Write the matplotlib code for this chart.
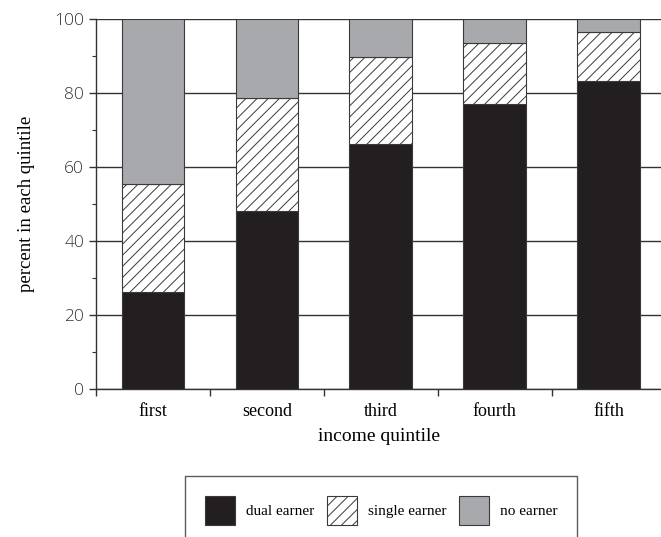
import matplotlib
matplotlib.use("Agg")
import matplotlib.pyplot as plt
from matplotlib.patches import Patch
import numpy as np

plt.rcParams['hatch.linewidth'] = 0.7

categories = ["first", "second", "third", "fourth", "fifth"]
dual_earner = [26.3, 48.1, 66.2, 77.1, 83.3]
single_earner = [29.0, 30.6, 23.6, 16.4, 13.1]
no_earner = [44.7, 21.3, 10.2, 6.5, 3.6]
series_labels = ["dual earner", "single earner", "no earner"]
y_ticks = [0, 20, 40, 60, 80, 100]

fig = plt.figure(figsize=(6.61, 5.37), dpi=100)
ax = fig.add_axes([96/661, 1-389/537, 1-96/661, (389-19)/537])

x = np.arange(len(categories))
w = 0.55
edge = "#3a3a3a"
ax.bar(x, dual_earner, w, color="#231f20", edgecolor=edge, linewidth=0.8, zorder=3)
ax.bar(x, single_earner, w, bottom=dual_earner, color="white", edgecolor=edge,
       hatch="///", linewidth=0.8, zorder=3)
bottom2 = [a + b for a, b in zip(dual_earner, single_earner)]
ax.bar(x, no_earner, w, bottom=bottom2, color="#a7a9ac", edgecolor=edge, linewidth=0.8, zorder=3)

ax.set_xlim(-0.5, 4.46)
ax.set_ylim(0, 100)
ax.set_yticks(y_ticks)
ax.set_yticks(np.arange(10, 100, 20), minor=True)
ax.yaxis.grid(True, which="major", color="#333333", linewidth=1.0, zorder=0)
ax.set_axisbelow(True)

ax.set_xticks(x)
ax.set_xticklabels(categories, family="Liberation Serif", fontsize=13)
ax.tick_params(axis="x", which="major", length=0, pad=10)
ax.set_xticks(np.arange(-0.5, 4.5, 1.0), minor=True)
ax.tick_params(axis="x", which="minor", length=5, width=1, color="#333333", direction="out")
ax.tick_params(axis="y", which="major", length=5, width=1, color="#333333", labelsize=12.5)
ax.tick_params(axis="y", which="minor", length=3, width=0.8, color="#333333")
for lab in ax.get_yticklabels():
    lab.set_family("Open Sans")
    lab.set_fontweight("light")
    lab.set_color("#333333")

for s in ["top", "right"]:
    ax.spines[s].set_visible(False)
for s in ["left", "bottom"]:
    ax.spines[s].set_color("#333333")
    ax.spines[s].set_linewidth(1.0)

ax.set_xlabel("income quintile", family="Liberation Serif", fontsize=14, labelpad=6)
ax.set_ylabel("percent in each quintile", family="Liberation Serif", fontsize=13.5, labelpad=14)

handles = [
    Patch(facecolor="#231f20", edgecolor=edge, linewidth=0.8),
    Patch(facecolor="white", edgecolor=edge, hatch="///", linewidth=0.8),
    Patch(facecolor="#a7a9ac", edgecolor=edge, linewidth=0.8),
]
leg = fig.legend(handles, series_labels, loc="upper left", bbox_to_anchor=(185/661, 1-476/537),
                 ncol=3, frameon=True, fancybox=False, edgecolor="#333333",
                 prop={"family": "Liberation Serif", "size": 11},
                 handlelength=2.0, handleheight=2.6, handletextpad=0.7, columnspacing=0.8,
                 borderpad=1.3, borderaxespad=0)
leg.get_frame().set_linewidth(1.0)

fig.savefig("out.png", dpi=100)
